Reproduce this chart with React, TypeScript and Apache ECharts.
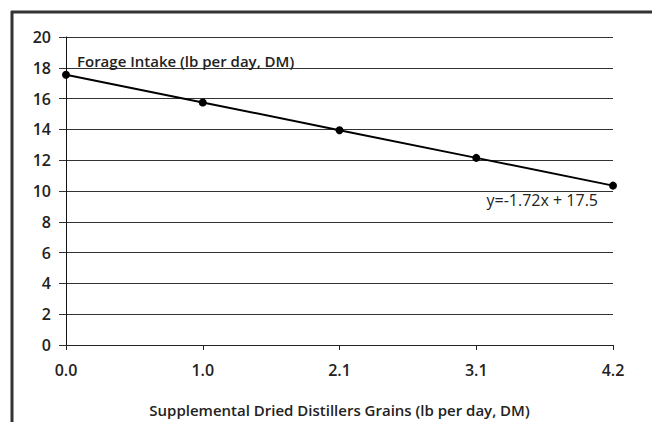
import React, { useEffect, useRef } from "react";
import * as echarts from "echarts";

const categories = ["0.0", "1.0", "2.1", "3.1", "4.2"];
const intake = [17.55, 15.75, 13.95, 12.15, 10.35];
const yTicks = { min: 0, max: 20, interval: 2 };
const titleText = "Forage Intake (lb per day, DM)";
const xName = "Supplemental Dried Distillers Grains (lb per day, DM)";
const equation = "y=-1.72x + 17.5";

const FONT = "'Open Sans', 'Lato', sans-serif";

export default function App() {
  const ref = useRef<HTMLDivElement>(null);
  useEffect(() => {
    if (!ref.current) return;
    const chart = echarts.init(ref.current, undefined, { renderer: "svg" });
    chart.setOption({
      animation: false,
      backgroundColor: "#fff",
      title: {
        text: titleText,
        left: 72,
        top: 48,
        textStyle: { fontFamily: FONT, fontSize: 15, fontWeight: 600, color: "#222" },
      },
      grid: { left: 66, right: 39, top: 37, bottom: 71 },
      xAxis: {
        type: "category",
        data: categories,
        boundaryGap: false,
        name: xName,
        nameLocation: "middle",
        nameGap: 57,
        nameTextStyle: { fontFamily: FONT, fontSize: 15, fontWeight: 600, color: "#222" },
        axisLine: { show: true, lineStyle: { color: "#222", width: 1 } },
        axisTick: { show: true, length: 5, alignWithLabel: true, lineStyle: { color: "#222" } },
        axisLabel: { fontFamily: FONT, fontSize: 16, fontWeight: 600, color: "#222", margin: 17 },
        splitLine: { show: false },
      },
      yAxis: {
        type: "value",
        min: yTicks.min,
        max: yTicks.max,
        interval: yTicks.interval,
        axisLine: { show: true, lineStyle: { color: "#111", width: 1 } },
        axisTick: { show: true, length: 7, lineStyle: { color: "#333" } },
        axisLabel: { fontFamily: FONT, fontSize: 16, fontWeight: 600, color: "#222", margin: 15 },
        splitLine: { show: true, lineStyle: { color: "#333", width: 1 } },
      },
      graphic: [
        {
          type: "line",
          shape: { x1: 12, y1: 11, x2: 12, y2: 422 },
          style: { stroke: "#333", lineWidth: 3 },
        },
        {
          type: "line",
          shape: { x1: 11, y1: 12, x2: 652, y2: 12 },
          style: { stroke: "#333", lineWidth: 3 },
        },
        {
          type: "text",
          right: 54,
          top: 192,
          style: { text: equation, fontFamily: FONT, fontSize: 16, fontWeight: 500, fill: "#222" },
        },
      ],
      series: [
        {
          type: "line",
          data: intake,
          symbol: "circle",
          symbolSize: 8,
          itemStyle: { color: "#000" },
          lineStyle: { color: "#000", width: 2 },
        },
      ],
    });
    return () => chart.dispose();
  }, []);
  return <div ref={ref} style={{ width: 652, height: 422, position: "absolute", left: 0, top: 0 }} />;
}
